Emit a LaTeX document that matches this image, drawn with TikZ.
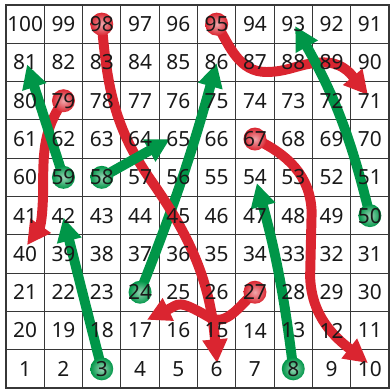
\documentclass[tikz,border=0pt]{standalone}
\usepackage{fontspec}
\setmainfont{Noto Sans}
\usetikzlibrary{arrows.meta}
\definecolor{snakered}{RGB}{218,37,48}
\definecolor{laddergreen}{RGB}{0,150,72}
\definecolor{gridgray}{RGB}{55,55,55}
\tikzset{
  gridline/.style={draw=gridgray, line width=0.7pt},
  boardframe/.style={draw=gridgray, line width=1.4pt},
  cellnum/.style={font=\fontsize{15.5pt}{16pt}\selectfont, text=black!90, inner sep=0pt},
  snakebody/.style={draw=snakered, line width=7.4pt, -{Triangle[length=0.62cm,width=0.62cm]}},
  ladderbody/.style={draw=laddergreen, line width=7.4pt, -{Triangle[length=0.62cm,width=0.62cm]}},
  snakehead/.style={circle, minimum size=0.6cm, inner sep=0pt, inner color=snakered!40!white, outer color=snakered},
  ladderfoot/.style={circle, minimum size=0.6cm, inner sep=0pt, inner color=laddergreen!40!white, outer color=laddergreen},
}

\begin{document}
\begin{tikzpicture}
  \useasboundingbox (-0.157,-0.026) rectangle (10.026,10.13);

  % board
  \draw[gridline] (0,0) grid (10,10);
  \draw[boardframe] (0,0) rectangle (10,10);

  % cell centres, numbered back and forth
  \foreach \n in {1,...,100}{
    \pgfmathtruncatemacro{\row}{(\n-1)/10}
    \pgfmathtruncatemacro{\k}{mod(\n-1,10)}
    \pgfmathtruncatemacro{\col}{isodd(\row) ? 9-\k : \k}
    \coordinate (c\n) at (\col+0.5,\row+0.5);
  }

  % arrow ends
  \coordinate (tip6) at (5.51,0.65);
  \coordinate (tip71) at (9.45,7.65);
  \coordinate (tip40) at (0.55,3.73);
  \coordinate (tip10) at (9.45,0.65);
  \coordinate (tip17) at (3.68,1.78);
  \coordinate (tip42) at (1.5,4.45);
  \coordinate (tip54) at (6.55,5.35);
  \coordinate (tip86) at (5.5,8.48);
  \coordinate (tip65) at (4.28,6.5);
  \coordinate (tip81) at (0.55,8.45);
  \coordinate (tip93) at (7.55,9.45);

  % ladders and snakes
  \draw[ladderbody] (c24) to[bend right=3] (tip86);
  \node[ladderfoot] (f24) at (c24) {};

  \draw[snakebody] (c98) to[out=-85,in=125] (3.8,5.4) to[out=-55,in=95] (tip6);
  \node[snakehead] (h98) at (c98) {};

  \draw[ladderbody] (c58) -- (tip65);
  \node[ladderfoot] (f58) at (c58) {};

  \draw[snakebody] (c79) to[out=-125,in=90] (0.97,5.3) to[out=-90,in=55] (tip40);
  \node[snakehead] (h79) at (c79) {};

  \draw[ladderbody] (c59) -- (tip81);
  \node[ladderfoot] (f59) at (c59) {};

  \draw[snakebody] (c95) to[out=-60,in=180] (6.8,8.25) to[out=0,in=180] (8.3,8.5) to[out=0,in=130] (tip71);
  \node[snakehead] (h95) at (c95) {};

  \draw[ladderbody] (c50) to[bend right=8] (tip93);
  \node[ladderfoot] (f50) at (c50) {};

  \draw[snakebody] (c67) to[out=-25,in=92] (7.98,4.6) -- (7.94,2.9) to[out=-88,in=142] (tip10);
  \node[snakehead] (h67) at (c67) {};

  \draw[ladderbody] (c8) to[bend right=4] (tip54);
  \node[ladderfoot] (f8) at (c8) {};

  \draw[ladderbody] (c3) -- (tip42);
  \node[ladderfoot] (f3) at (c3) {};

  \draw[snakebody] (c27) to[out=-140,in=-30] (5.3,1.85) to[out=150,in=26,looseness=1.5] (tip17);
  \node[snakehead] (h27) at (c27) {};

  % numbers on top
  \foreach \n in {1,...,100}
    \node[cellnum] (n\n) at (c\n) {\n};
\end{tikzpicture}
\end{document}
